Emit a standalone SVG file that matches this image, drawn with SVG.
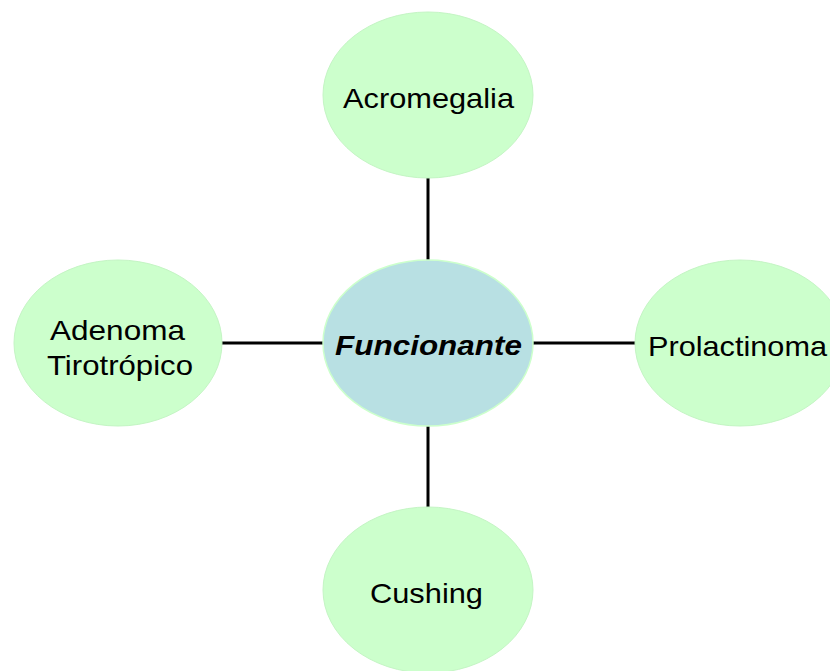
<svg xmlns="http://www.w3.org/2000/svg" width="830" height="671" viewBox="0 0 830 671">
<style>
.leaf{fill:#ccffcc;stroke:#c4f5c4;stroke-width:1}
.hub{fill:#b8e0e3;stroke:#ccffcc;stroke-width:1.5}
.t{font-family:"Liberation Sans",Arial,sans-serif;font-size:28px;fill:#000;text-anchor:middle}
.tb{font-family:"Liberation Sans",Arial,sans-serif;font-size:28px;font-weight:bold;font-style:italic;fill:#000;text-anchor:middle}
.c{stroke:#000;stroke-width:3;fill:none}
</style>
<rect width="830" height="671" fill="#fff"/>
<g id="connectors">
<line class="c" x1="428" y1="178" x2="428" y2="261"/>
<line class="c" x1="428" y1="425" x2="428" y2="508"/>
<line class="c" x1="221" y1="343" x2="324" y2="343"/>
<line class="c" x1="532" y1="343" x2="636" y2="343"/>
</g>
<g id="acromegalia">
<ellipse class="leaf" cx="428" cy="95" rx="105" ry="83"/>
<text class="t" x="428.5" y="108" textLength="171" lengthAdjust="spacingAndGlyphs">Acromegalia</text>
</g>
<g id="funcionante">
<ellipse class="hub" cx="428" cy="343" rx="105" ry="83"/>
<text class="tb" x="428.5" y="355" textLength="187" lengthAdjust="spacingAndGlyphs">Funcionante</text>
</g>
<g id="adenoma">
<ellipse class="leaf" cx="118" cy="343" rx="104" ry="83"/>
<text class="t" x="117.5" y="340" textLength="135" lengthAdjust="spacingAndGlyphs">Adenoma</text>
<text class="t" x="120" y="375" textLength="146" lengthAdjust="spacingAndGlyphs">Tirotrópico</text>
</g>
<g id="prolactinoma">
<ellipse class="leaf" cx="740" cy="343" rx="105" ry="83"/>
<text class="t" x="737.5" y="356" textLength="179" lengthAdjust="spacingAndGlyphs">Prolactinoma</text>
</g>
<g id="cushing">
<ellipse class="leaf" cx="428" cy="590" rx="105" ry="83"/>
<text class="t" x="426.5" y="603" textLength="113" lengthAdjust="spacingAndGlyphs">Cushing</text>
</g>
</svg>
